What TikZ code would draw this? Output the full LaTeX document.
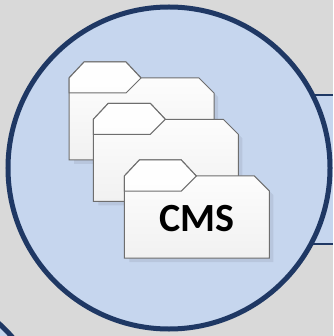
\documentclass[tikz,border=0pt]{standalone}
\usepackage{fontspec}
\setmainfont{Carlito}
\definecolor{bgc}{HTML}{D9D9D9}
\definecolor{bluefill}{HTML}{C6D6EE}
\definecolor{navy}{HTML}{1F3864}
\definecolor{fold}{HTML}{6E6E6E}
\definecolor{foldlow}{HTML}{F1F1F1}
\tikzset{
  ringline/.style={draw=navy,line width=5pt,fill=bluefill},
  edgeline/.style={draw=navy,line width=2pt},
  foldbody/.style={draw=fold,line width=1pt,line join=miter,top color=white,bottom color=foldlow},
  foldtab/.style={draw=fold,line width=1pt,line join=miter,fill=white,fill opacity=0.75},
  foldshadow/.style={fill=black,fill opacity=0.07,draw=none},
  foldlabel/.style={font=\bfseries\fontsize{40}{40}\selectfont,text=black,inner sep=0pt}
}
\newcommand{\folderat}[2]{%
  \begin{scope}[shift={(#1,#2)}]
    \fill[foldshadow] (5,20) -- (134,20) -- (149,35) -- (149,102) -- (5,102) -- cycle;
    \path[foldbody] (0,16) -- (15,0) -- (57,0) -- (72,16) -- (130,16) -- (145,31) -- (145,98) -- (0,98) -- cycle;
    \path[foldtab] (0,16) -- (15,0) -- (57,0) -- (72,16) -- (57,31) -- (0,31) -- cycle;
  \end{scope}}
\begin{document}
\begin{tikzpicture}[x=1pt,y=-1pt]
\useasboundingbox (0,0) rectangle (333,336);
\fill[bgc] (0,0) rectangle (333,336);
% panel behind the circle on the right
\fill[bluefill] (300,95) rectangle (333,243);
\coordinate (pa) at (300,95);
\coordinate (pb) at (333,95);
\coordinate (pc) at (300,243.5);
\coordinate (pd) at (333,243.5);
\draw[edgeline] (pa) -- (pb);
\draw[edgeline] (pc) -- (pd);
% neighbouring circle, bottom left corner
\begin{scope}
\clip (0,0) rectangle (333,336);
\path[ringline] (-109,443) circle[radius=161];
\end{scope}
% main circle
\path[ringline] (169,168) circle[radius=161];
\folderat{69}{62}
\folderat{93.3}{103.3}
\folderat{124.3}{160}
\node[foldlabel] (cms) at (197,218.5) {CMS};
\end{tikzpicture}
\end{document}
